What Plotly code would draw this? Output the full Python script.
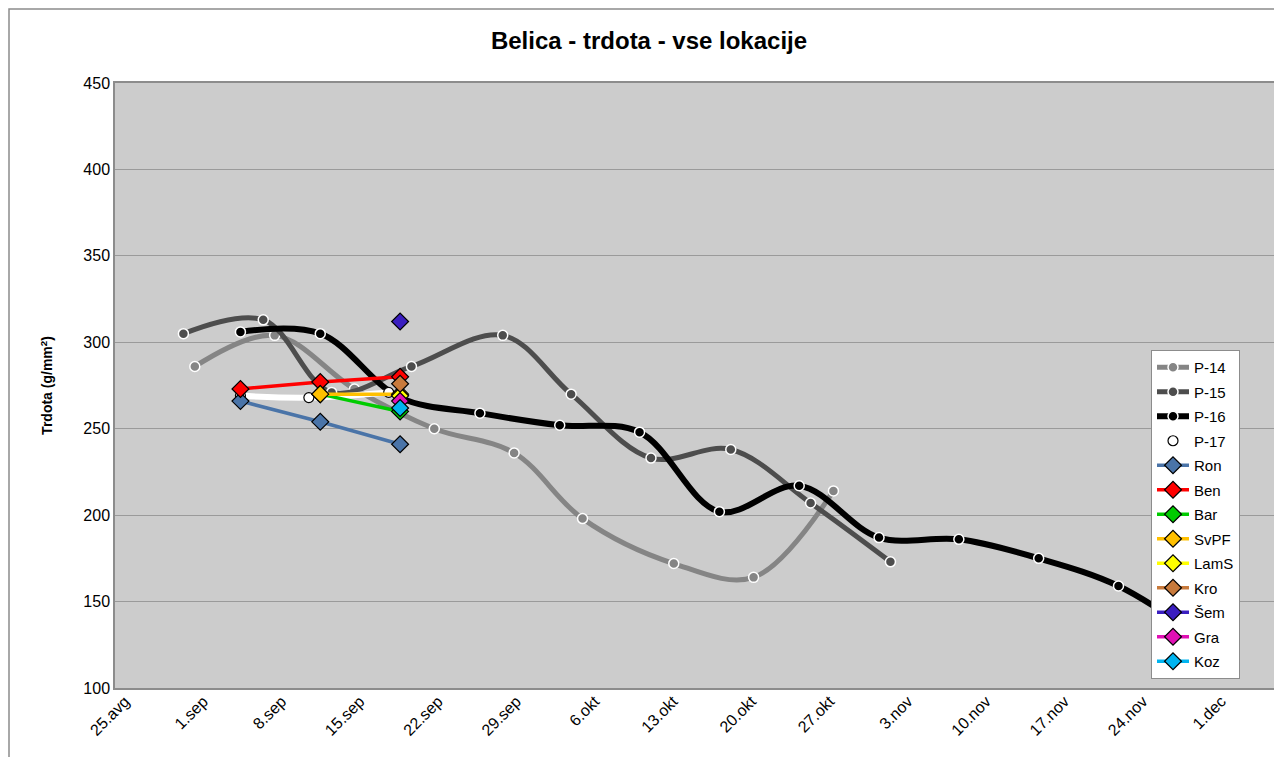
import plotly.graph_objects as go

# ---------------- data ----------------
tick_labels = ["25.avg", "1.sep", "8.sep", "15.sep", "22.sep", "29.sep", "6.okt",
               "13.okt", "20.okt", "27.okt", "3.nov", "10.nov", "17.nov", "24.nov", "1.dec"]

p14_dates = ["2011-09-01", "2011-09-08", "2011-09-15", "2011-09-22", "2011-09-29",
             "2011-10-05", "2011-10-13", "2011-10-20", "2011-10-27"]
p14_vals = [286, 304, 273, 250, 236, 198, 172, 164, 214]

p15_dates = ["2011-08-31", "2011-09-07", "2011-09-13", "2011-09-20", "2011-09-28",
             "2011-10-04", "2011-10-11", "2011-10-18", "2011-10-25", "2011-11-01"]
p15_vals = [305, 313, 271, 286, 304, 270, 233, 238, 207, 173]

p16_dates = ["2011-09-05", "2011-09-12", "2011-09-19", "2011-09-26", "2011-10-03",
             "2011-10-10", "2011-10-17", "2011-10-24", "2011-10-31", "2011-11-07",
             "2011-11-14", "2011-11-21", "2011-11-28"]
p16_vals = [306, 305, 268, 259, 252, 248, 202, 217, 187, 186, 175, 159, 130]

p17_dates = ["2011-09-05", "2011-09-11", "2011-09-18"]
p17_vals = [269, 268, 271]

loc_dates3 = ["2011-09-05", "2011-09-12", "2011-09-19"]
loc_dates2 = ["2011-09-12", "2011-09-19"]
loc_dates1 = ["2011-09-19"]

ron_vals = [266, 254, 241]
ben_vals = [273, 277, 280]
bar_vals = [270, 260]
svpf_vals = [270, 270]
lams_vals = [269]
kro_vals = [276]
sem_vals = [312]
gra_vals = [266]
koz_vals = [262]

# ---------------- figure ----------------
fig = go.Figure()

def pser(name, x, y, lc, mc, lw, edge, mlw):
    fig.add_trace(go.Scatter(
        x=x, y=y, name=name, mode="lines+markers",
        line=dict(color=lc, width=lw, shape="spline", smoothing=1.0),
        marker=dict(symbol="circle", size=10, color=mc, line=dict(color=edge, width=mlw)),
        legendgroup=name))

pser("P-14", p14_dates, p14_vals, "#858585", "#858585", 5, "#ffffff", 1.5)
pser("P-15", p15_dates, p15_vals, "#4d4d4d", "#4d4d4d", 5, "#ffffff", 1.5)
pser("P-16", p16_dates, p16_vals, "#000000", "#000000", 6, "#ffffff", 1.5)
pser("P-17", p17_dates, p17_vals, "#ffffff", "#ffffff", 6, "#000000", 1.2)

def dser(name, x, y, color, lw=3.5):
    fig.add_trace(go.Scatter(
        x=x, y=y, name=name, mode="lines+markers",
        line=dict(color=color, width=lw),
        marker=dict(symbol="diamond", size=13, color=color, line=dict(color="#000000", width=1.2)),
        legendgroup=name))

dser("Ron", loc_dates3, ron_vals, "#4a74a8")
dser("Ben", loc_dates3, ben_vals, "#ff0000")
dser("Bar", loc_dates2, bar_vals, "#00cc00")
dser("SvPF", loc_dates2, svpf_vals, "#ffc000")
dser("LamS", loc_dates1, lams_vals, "#ffff00")
dser("Kro", loc_dates1, kro_vals, "#c87a3c")
dser("Šem", loc_dates1, sem_vals, "#3a1ec0")
dser("Gra", loc_dates1, gra_vals, "#e010b4")
dser("Koz", loc_dates1, koz_vals, "#00b4f0")

# invisible carrier for the category (label) axis
fig.add_trace(go.Scatter(x=list(range(len(tick_labels))), y=[None] * len(tick_labels),
                         xaxis="x2", yaxis="y", mode="markers", showlegend=False,
                         hoverinfo="skip", marker=dict(opacity=0)))

# plot area in pixels
L, R, T, B = 107, 1273, 75, 680
W, H = 1282, 757
pw, ph = R - L, B - T
cat_step = 78.3          # px between category labels
cat_off = 10.0           # px from left edge to first label

def px2paper_x(px):
    return (px - L) / pw

def py2paper_y(py):
    return (B - py) / ph

fig.update_layout(
    width=W, height=H,
    margin=dict(l=L, r=W - R, t=T, b=H - B, autoexpand=False),
    paper_bgcolor="#ffffff",
    plot_bgcolor="#cccccc",
    font=dict(family="Liberation Sans, Arial, sans-serif", size=14, color="#000000"),
    title=dict(text="<b>Belica - trdota - vse lokacije</b>", x=0.5, xanchor="center",
               y=1 - 33 / H, yanchor="middle",
               font=dict(size=24, family="Liberation Sans, Arial, sans-serif")),
    showlegend=True,
    legend=dict(x=px2paper_x(1143), y=py2paper_y(342), xanchor="left", yanchor="top",
                bgcolor="#ffffff", bordercolor="#8c8c8c", borderwidth=1,
                font=dict(size=15), tracegroupgap=2.0, itemwidth=32),
    xaxis=dict(type="date", range=["2011-08-25", "2011-12-05 06:00"],
               showticklabels=False,
               showgrid=False, zeroline=False, showline=True, linecolor="#8c8c8c",
               linewidth=1.5, mirror=True, ticks="", automargin=False),
    xaxis2=dict(overlaying="x", anchor="y", side="bottom", type="linear",
                range=[-cat_off / cat_step, (pw - cat_off) / cat_step],
                tickvals=list(range(len(tick_labels))), ticktext=tick_labels,
                tickangle=-45, tickfont=dict(size=16), showgrid=False,
                zeroline=False, showline=False, ticks="", automargin=False),
    yaxis=dict(range=[100, 450], dtick=50, tick0=100, showgrid=True,
               gridcolor="#9a9a9a", gridwidth=1.2, zeroline=False, showline=True,
               linecolor="#8c8c8c", linewidth=1.5, mirror=True, ticks="",
               tickfont=dict(size=16), automargin=False,
               title=dict(text="<b>Trdota (g/mm<sup>2</sup>)</b>", font=dict(size=14),
                          standoff=27)),
    shapes=[dict(type="rect", xref="paper", yref="paper",
                 x0=px2paper_x(1.0), x1=px2paper_x(1300),
                 y0=py2paper_y(800), y1=py2paper_y(1.0),
                 line=dict(color="#8c8c8c", width=1.5), fillcolor="rgba(0,0,0,0)",
                 layer="below")],
)

fig.write_html("out.html")
